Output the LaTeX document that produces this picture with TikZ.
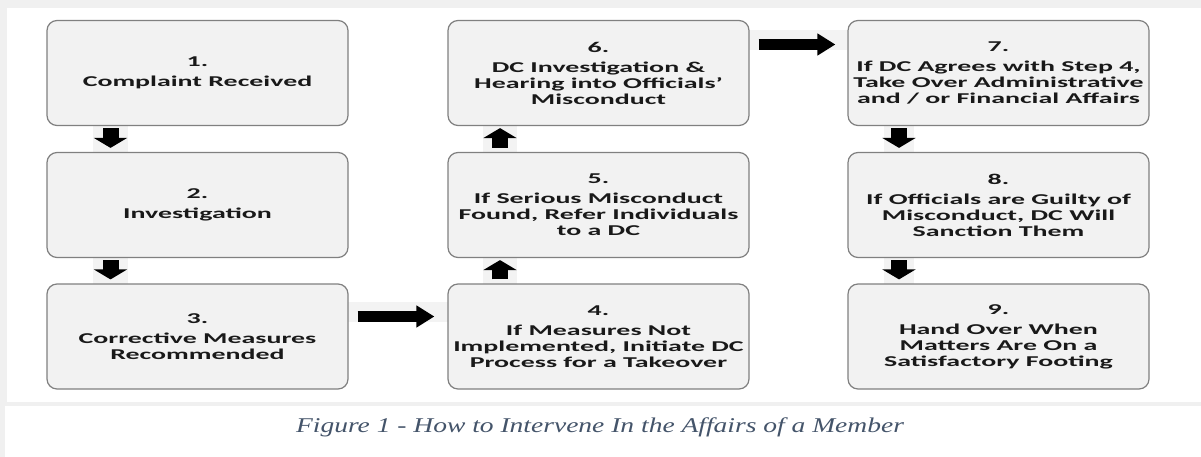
\documentclass[tikz,border=0pt]{standalone}
\usepackage{fontspec}
\setmainfont{Liberation Serif}
\newfontfamily\boxfont{Carlito}[FakeStretch=1.86, BoldFeatures={FakeStretch=1.86}]
\newfontfamily\capfont{Liberation Serif}[FakeStretch=1.31, ItalicFeatures={FakeStretch=1.31}]
\usetikzlibrary{arrows.meta}
\definecolor{bgc}{HTML}{F0F0F0}
\definecolor{boxfill}{HTML}{F2F2F2}
\definecolor{boxline}{HTML}{808080}
\definecolor{capc}{HTML}{44546A}
\definecolor{bandc}{HTML}{F3F3F3}
\tikzset{
  stepbox/.style={draw=boxline, fill=boxfill, line width=1.2pt, rounded corners=10pt,
    minimum width=301pt, minimum height=105pt, align=center, inner sep=0pt,
    font=\boxfont\bfseries\fontsize{15pt}{16pt}\selectfont, text=black!90},
  varrow/.style={line width=16pt, -{Triangle[width=33pt,length=10pt]}},
  harrow/.style={line width=11pt, -{Triangle[width=21pt,length=18pt]}},
}
\newcommand{\numgap}{\\[4pt]}
\begin{document}
\begin{tikzpicture}[x=1pt,y=-1pt]
\useasboundingbox (0,0) rectangle (1201,457);
\fill[bgc] (0,0) rectangle (1201,457);
\fill[white] (7,8) rectangle (1201,402);
\fill[white] (5,406) rectangle (1201,457);
% faint bands behind arrows
\fill[bandc] (93,126) rectangle (128,152);
\fill[bandc] (93,258) rectangle (128,284);
\fill[bandc] (483,126) rectangle (517,152);
\fill[bandc] (483,258) rectangle (517,284);
\fill[bandc] (884,126) rectangle (914,152);
\fill[bandc] (884,258) rectangle (914,284);
\fill[bandc] (348,302) rectangle (448,322);
\fill[bandc] (749,30) rectangle (847,50);

\node[stepbox] (b1) at (197.5,73) {1.\numgap Complaint Received};
\node[stepbox] (b2) at (197.5,205) {2.\numgap Investigation};
\node[stepbox] (b3) at (197.5,336.5) {3.\numgap Corrective Measures\\Recommended};
\node[stepbox] (b4) at (598.5,336.5) {4.\numgap If Measures Not\\Implemented, Initiate DC\\Process for a Takeover};
\node[stepbox] (b5) at (598.5,205) {5.\numgap If Serious Misconduct\\Found, Refer Individuals\\to a DC};
\node[stepbox] (b6) at (598.5,73) {6.\numgap DC Investigation \&\\Hearing into Officials’\\Misconduct};
\node[stepbox] (b7) at (998.5,73) {7.\numgap If DC Agrees with Step 4,\\Take Over Administrative\\and / or Financial Affairs};
\node[stepbox] (b8) at (998.5,205) {8.\numgap If Officials are Guilty of\\Misconduct, DC Will\\Sanction Them};
\node[stepbox] (b9) at (998.5,336.5) {9.\numgap Hand Over When\\Matters Are On a\\Satisfactory Footing};

\draw[varrow] ([shift={(-87,2)}]b1.south) -- ([shift={(-87,-4)}]b2.north);
\draw[varrow] ([shift={(-87,2)}]b2.south) -- ([shift={(-87,-4)}]b3.north);
\draw[harrow] ([shift={(9,-20)}]b3.east) -- ([shift={(-13,-20)}]b4.west);
\draw[varrow] ([shift={(-98.5,-4)}]b4.north) -- ([shift={(-98.5,2)}]b5.south);
\draw[varrow] ([shift={(-98.5,-4)}]b5.north) -- ([shift={(-98.5,2)}]b6.south);
\draw[harrow] ([shift={(9,-28.5)}]b6.east) -- ([shift={(-12,-28.5)}]b7.west);
\draw[varrow] ([shift={(-99.5,2)}]b7.south) -- ([shift={(-99.5,-4)}]b8.north);
\draw[varrow] ([shift={(-99.5,2)}]b8.south) -- ([shift={(-99.5,-4)}]b9.north);

\node[anchor=base, text=capc, font=\capfont\itshape\fontsize{21pt}{23pt}\selectfont] (cap) at (600,432) {Figure 1 - How to Intervene In the Affairs of a Member};
\end{tikzpicture}
\end{document}
